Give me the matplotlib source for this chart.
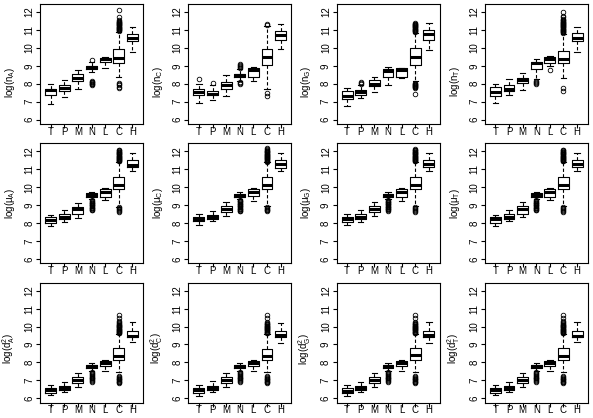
import matplotlib
matplotlib.use('Agg')
import matplotlib.pyplot as plt

plt.rcParams['font.family'] = ['Liberation Sans', 'DejaVu Sans']
plt.rcParams['mathtext.fontset'] = 'custom'
plt.rcParams['mathtext.rm'] = 'Liberation Sans'
plt.rcParams['mathtext.it'] = 'Liberation Sans:italic'

groups = ['T', 'P', 'M', 'N', 'L', 'C', 'H']

# ---------------- row 1 : log(n) ----------------
nA_lo = [6.87, 7.25, 7.70, 8.68, 8.87, 8.35, 9.78]
nA_q1 = [7.35, 7.59, 8.13, 8.82, 9.19, 9.17, 10.38]
nA_med = [7.66, 7.74, 8.33, 8.93, 9.36, 9.45, 10.57]
nA_q3 = [7.72, 7.90, 8.52, 9.00, 9.43, 9.92, 10.79]
nA_hi = [7.96, 8.18, 8.78, 9.22, 9.50, 10.90, 11.16]
nA_fl = [[], [], [],
         [9.33, 7.92, 7.96, 8.00, 8.04, 8.08, 8.12, 8.16],
         [],
         [10.95, 10.98, 11.01, 11.04, 11.07, 11.10, 11.13, 11.16, 11.19, 11.22,
          11.25, 11.28, 11.31, 11.34, 11.37, 11.40, 11.43, 11.46, 11.50, 11.55,
          11.70, 12.10, 7.76, 7.84, 7.92, 8.00, 8.06],
         []]

nC_lo = [6.92, 7.10, 7.29, 8.15, 8.15, 7.73, 9.95]
nC_q1 = [7.39, 7.35, 7.70, 8.35, 8.38, 9.02, 10.43]
nC_med = [7.53, 7.44, 7.91, 8.48, 8.76, 9.50, 10.74]
nC_q3 = [7.73, 7.60, 8.10, 8.55, 8.85, 9.95, 10.95]
nC_hi = [7.96, 7.90, 8.46, 8.82, 8.96, 11.20, 11.35]
nC_fl = [[8.25], [8.05], [],
         [8.90, 8.95, 9.00, 9.05, 9.10, 8.00, 8.05, 8.10],
         [],
         [11.30, 11.35, 7.50, 7.30],
         []]

nG_lo = [6.77, 7.22, 7.53, 7.95, 8.34, 8.15, 9.86]
nG_q1 = [7.15, 7.37, 7.87, 8.35, 8.38, 9.06, 10.43]
nG_med = [7.33, 7.51, 8.00, 8.69, 8.76, 9.50, 10.75]
nG_q3 = [7.60, 7.64, 8.20, 8.80, 8.85, 9.99, 11.00]
nG_hi = [7.78, 7.90, 8.40, 8.93, 8.90, 10.85, 11.40]
nG_fl = [[], [7.98, 8.04, 8.10], [],
         [],
         [],
         [10.90, 10.93, 10.96, 10.99, 11.02, 11.05, 11.08, 11.11, 11.14, 11.17,
          11.20, 11.23, 11.26, 11.29, 11.32, 11.36, 11.40,
          7.76, 7.79, 7.82, 7.85, 7.88, 7.91, 7.94, 7.97, 8.00, 8.04, 7.40],
         []]

nT_lo = [6.94, 7.39, 7.66, 8.24, 9.00, 8.33, 9.77]
nT_q1 = [7.29, 7.59, 8.03, 8.84, 9.17, 9.17, 10.38]
nT_med = [7.53, 7.72, 8.18, 9.15, 9.40, 9.36, 10.55]
nT_q3 = [7.81, 7.94, 8.33, 9.21, 9.50, 9.84, 10.83]
nT_hi = [7.96, 8.25, 8.60, 9.40, 9.55, 10.80, 11.16]
nT_fl = [[], [], [],
         [8.00, 8.05, 8.10, 8.15],
         [8.75],
         [10.84, 10.87, 10.90, 10.93, 10.96, 10.99, 11.02, 11.05, 11.08, 11.11,
          11.14, 11.17, 11.20, 11.23, 11.26, 11.29, 11.32, 11.35, 11.38, 11.41,
          11.44, 11.47, 11.50, 11.54, 11.58, 11.63, 11.70, 11.80, 12.00,
          7.62, 7.75],
         []]

# ---------------- row 2 : log(mu) ----------------
muA_lo = [7.84, 8.08, 8.30, 9.32, 9.29, 8.92, 10.90]
muA_q1 = [7.99, 8.22, 8.49, 9.47, 9.45, 9.88, 11.13]
muA_med = [8.18, 8.34, 8.78, 9.56, 9.75, 10.10, 11.26]
muA_q3 = [8.31, 8.49, 8.92, 9.65, 9.88, 10.57, 11.54]
muA_hi = [8.44, 8.73, 9.14, 9.73, 9.97, 11.40, 11.90]
muA_fl = [[], [], [],
          [8.70, 8.74, 8.78, 8.82, 8.86, 8.90, 8.94, 8.98, 9.02, 9.06, 9.10,
           9.14, 9.18, 9.22, 9.26],
          [],
          [11.44, 11.47, 11.50, 11.53, 11.56, 11.59, 11.62, 11.65, 11.68, 11.71,
           11.74, 11.77, 11.80, 11.83, 11.86, 11.89, 11.92, 11.95, 11.98, 12.02,
           12.06, 12.10, 8.60, 8.66, 8.72, 8.78, 8.84, 8.88],
          []]

muC_lo = [7.90, 8.10, 8.41, 9.35, 9.21, 8.97, 10.88]
muC_q1 = [8.10, 8.23, 8.64, 9.43, 9.49, 9.90, 11.10]
muC_med = [8.23, 8.36, 8.79, 9.53, 9.75, 10.13, 11.30]
muC_q3 = [8.36, 8.47, 8.97, 9.62, 9.90, 10.55, 11.52]
muC_hi = [8.50, 8.69, 9.16, 9.71, 9.96, 11.39, 11.89]
muC_fl = [[], [], [],
          [8.65, 8.69, 8.73, 8.77, 8.81, 8.85, 8.89, 8.93, 8.97, 9.01, 9.05,
           9.09, 9.13, 9.17, 9.21, 9.25, 9.29],
          [],
          [11.43, 11.46, 11.49, 11.52, 11.55, 11.58, 11.61, 11.64, 11.67, 11.70,
           11.73, 11.76, 11.79, 11.82, 11.85, 11.88, 11.91, 11.94, 11.97, 12.00,
           12.04, 12.08, 12.13, 12.18, 8.65, 8.70, 8.75, 8.80, 8.85, 8.90],
          []]

muG_lo = [7.88, 8.08, 8.40, 9.33, 9.22, 8.95, 10.88]
muG_q1 = [8.08, 8.22, 8.62, 9.44, 9.48, 9.89, 11.12]
muG_med = [8.21, 8.35, 8.80, 9.54, 9.76, 10.12, 11.30]
muG_q3 = [8.34, 8.48, 8.96, 9.63, 9.90, 10.56, 11.53]
muG_hi = [8.48, 8.70, 9.15, 9.72, 9.97, 11.40, 11.90]
muG_fl = [[], [], [],
          [8.68, 8.72, 8.76, 8.80, 8.84, 8.88, 8.92, 8.96, 9.00, 9.04, 9.08,
           9.12, 9.16, 9.20, 9.24, 9.28],
          [],
          [11.44, 11.47, 11.50, 11.53, 11.56, 11.59, 11.62, 11.65, 11.68, 11.71,
           11.74, 11.77, 11.80, 11.83, 11.86, 11.89, 11.92, 11.95, 11.98, 12.02,
           12.06, 12.10, 12.15, 8.62, 8.68, 8.74, 8.80, 8.86, 8.91],
          []]

muT_lo = [7.86, 8.09, 8.33, 9.33, 9.28, 8.93, 10.90]
muT_q1 = [8.02, 8.22, 8.52, 9.47, 9.46, 9.89, 11.13]
muT_med = [8.20, 8.35, 8.80, 9.56, 9.74, 10.11, 11.28]
muT_q3 = [8.33, 8.49, 8.94, 9.65, 9.88, 10.56, 11.53]
muT_hi = [8.46, 8.72, 9.15, 9.73, 9.97, 11.40, 11.90]
muT_fl = [[], [], [],
          [8.70, 8.74, 8.78, 8.82, 8.86, 8.90, 8.94, 8.98, 9.02, 9.06, 9.10,
           9.14, 9.18, 9.22, 9.26],
          [],
          [11.44, 11.47, 11.50, 11.53, 11.56, 11.59, 11.62, 11.65, 11.68, 11.71,
           11.74, 11.77, 11.80, 11.83, 11.86, 11.89, 11.92, 11.95, 11.98, 12.02,
           12.06, 12.10, 8.62, 8.68, 8.74, 8.80, 8.86, 8.90],
          []]

# ---------------- row 3 : log(d^2) ----------------
dA_lo = [6.15, 6.33, 6.61, 7.54, 7.54, 7.45, 9.12]
dA_q1 = [6.29, 6.43, 6.85, 7.69, 7.78, 8.15, 9.40]
dA_med = [6.43, 6.57, 7.04, 7.78, 7.96, 8.38, 9.49]
dA_q3 = [6.57, 6.70, 7.17, 7.86, 8.10, 8.78, 9.77]
dA_hi = [6.74, 6.93, 7.41, 7.97, 8.13, 9.59, 10.23]
dA_fl = [[], [], [],
         [6.90, 6.95, 7.00, 7.05, 7.10, 7.15, 7.20, 7.25, 7.30, 7.35, 7.40, 7.45],
         [],
         [9.62, 9.65, 9.68, 9.71, 9.74, 9.77, 9.80, 9.83, 9.86, 9.89, 9.92, 9.95,
          9.98, 10.01, 10.04, 10.07, 10.10, 10.14, 10.18, 10.23, 10.30, 10.45, 10.62,
          6.85, 6.89, 6.93, 6.97, 7.01, 7.05, 7.09, 7.13, 7.17, 7.22],
         []]

dC_lo = [6.14, 6.32, 6.60, 7.54, 7.53, 7.45, 9.10]
dC_q1 = [6.28, 6.43, 6.84, 7.68, 7.77, 8.14, 9.40]
dC_med = [6.43, 6.56, 7.04, 7.77, 7.96, 8.38, 9.50]
dC_q3 = [6.57, 6.70, 7.18, 7.86, 8.10, 8.77, 9.76]
dC_hi = [6.74, 6.94, 7.42, 7.98, 8.14, 9.60, 10.22]
dC_fl = [[], [], [],
         [6.90, 6.95, 7.00, 7.05, 7.10, 7.15, 7.20, 7.25, 7.30, 7.35, 7.40, 7.45],
         [],
         [9.63, 9.66, 9.69, 9.72, 9.75, 9.78, 9.81, 9.84, 9.87, 9.90, 9.93, 9.96,
          9.99, 10.02, 10.05, 10.08, 10.12, 10.16, 10.21, 10.28, 10.45, 10.62,
          6.85, 6.89, 6.93, 6.97, 7.01, 7.05, 7.09, 7.13, 7.17, 7.22],
         []]

dG_lo = [6.14, 6.32, 6.60, 7.54, 7.54, 7.45, 9.10]
dG_q1 = [6.28, 6.43, 6.85, 7.68, 7.78, 8.15, 9.40]
dG_med = [6.42, 6.57, 7.04, 7.78, 7.96, 8.39, 9.50]
dG_q3 = [6.56, 6.70, 7.17, 7.86, 8.10, 8.78, 9.77]
dG_hi = [6.74, 6.93, 7.41, 7.97, 8.13, 9.60, 10.23]
dG_fl = [[], [], [],
         [6.90, 6.95, 7.00, 7.05, 7.10, 7.15, 7.20, 7.25, 7.30, 7.35, 7.40, 7.45],
         [],
         [9.63, 9.66, 9.69, 9.72, 9.75, 9.78, 9.81, 9.84, 9.87, 9.90, 9.93, 9.96,
          9.99, 10.02, 10.05, 10.08, 10.12, 10.16, 10.21, 10.28, 10.45, 10.62,
          6.85, 6.89, 6.93, 6.97, 7.01, 7.05, 7.09, 7.13, 7.17, 7.22],
         []]

dT_lo = [6.15, 6.33, 6.61, 7.54, 7.54, 7.45, 9.12]
dT_q1 = [6.29, 6.43, 6.85, 7.69, 7.78, 8.15, 9.40]
dT_med = [6.43, 6.57, 7.04, 7.78, 7.96, 8.38, 9.49]
dT_q3 = [6.57, 6.70, 7.17, 7.86, 8.10, 8.78, 9.77]
dT_hi = [6.74, 6.93, 7.41, 7.97, 8.13, 9.59, 10.23]
dT_fl = [[], [], [],
         [6.90, 6.95, 7.00, 7.05, 7.10, 7.15, 7.20, 7.25, 7.30, 7.35, 7.40, 7.45],
         [],
         [9.62, 9.65, 9.68, 9.71, 9.74, 9.77, 9.80, 9.83, 9.86, 9.89, 9.92, 9.95,
          9.98, 10.01, 10.04, 10.07, 10.10, 10.14, 10.18, 10.23, 10.30, 10.45, 10.62,
          6.85, 6.89, 6.93, 6.97, 7.01, 7.05, 7.09, 7.13, 7.17, 7.22],
         []]

ylabels = [r'log($\mathregular{n_A}$)', r'log($\mathregular{n_C}$)',
           r'log($\mathregular{n_G}$)', r'log($\mathregular{n_T}$)',
           r'log($\mathregular{\mu_A}$)', r'log($\mathregular{\mu_C}$)',
           r'log($\mathregular{\mu_G}$)', r'log($\mathregular{\mu_T}$)',
           r'log($\mathregular{d_A^2}$)', r'log($\mathregular{d_C^2}$)',
           r'log($\mathregular{d_G^2}$)', r'log($\mathregular{d_T^2}$)']

panels = [
    (nA_lo, nA_q1, nA_med, nA_q3, nA_hi, nA_fl),
    (nC_lo, nC_q1, nC_med, nC_q3, nC_hi, nC_fl),
    (nG_lo, nG_q1, nG_med, nG_q3, nG_hi, nG_fl),
    (nT_lo, nT_q1, nT_med, nT_q3, nT_hi, nT_fl),
    (muA_lo, muA_q1, muA_med, muA_q3, muA_hi, muA_fl),
    (muC_lo, muC_q1, muC_med, muC_q3, muC_hi, muC_fl),
    (muG_lo, muG_q1, muG_med, muG_q3, muG_hi, muG_fl),
    (muT_lo, muT_q1, muT_med, muT_q3, muT_hi, muT_fl),
    (dA_lo, dA_q1, dA_med, dA_q3, dA_hi, dA_fl),
    (dC_lo, dC_q1, dC_med, dC_q3, dC_hi, dC_fl),
    (dG_lo, dG_q1, dG_med, dG_q3, dG_hi, dG_fl),
    (dT_lo, dT_q1, dT_med, dT_q3, dT_hi, dT_fl),
]

W, H = 593, 418
fig = plt.figure(figsize=(W / 100, H / 100), dpi=100)

pw, ph = 103, 120
label_y = [0.35, 0.5, 0.45]
lw = 0.8
for i, (lo, q1, med, q3, hi, fl) in enumerate(panels):
    r, c = divmod(i, 4)
    left = 40 + 148.25 * c
    top = 4 + 139.33 * r
    ax = fig.add_axes([left / W, 1 - (top + ph) / H, pw / W, ph / H])
    stats = [dict(med=med[k], q1=q1[k], q3=q3[k], whislo=lo[k], whishi=hi[k],
                  fliers=fl[k], label=groups[k]) for k in range(len(groups))]
    ax.bxp(stats, positions=list(range(1, len(groups) + 1)), widths=0.8,
           capwidths=0.4, showfliers=True,
           boxprops=dict(color='black', lw=lw),
           whiskerprops=dict(color='black', lw=lw, linestyle=(0, (3, 2))),
           capprops=dict(color='black', lw=lw),
           medianprops=dict(color='black', lw=2.2, solid_capstyle='butt'),
           flierprops=dict(marker='o', markerfacecolor='none',
                           markeredgecolor='black', markersize=3.3,
                           markeredgewidth=0.6, linestyle='none'))
    ax.set_xlim(0.22, 7.78)
    ax.set_ylim(5.75, 12.45)
    ax.set_xticks(list(range(1, 8)))
    ax.set_xticklabels(groups)
    ax.set_yticks([6, 7, 8, 9, 10, 11, 12])
    ax.set_yticklabels(['6', '7', '8', '9', '10', '11', '12'])
    ax.tick_params(axis='both', direction='out', length=3, width=lw,
                   labelsize=7, colors='black')
    ax.tick_params(axis='x', pad=-1.0)
    ax.tick_params(axis='y', pad=1.0, labelrotation=90)
    for lab in ax.get_yticklabels():
        lab.set_va('center')
    for sp in ax.spines.values():
        sp.set_linewidth(lw)
        sp.set_color('black')
    ax.set_ylabel(ylabels[i], fontsize=7)
    ax.yaxis.set_label_coords(-0.225, label_y[r])

fig.savefig('out.png', dpi=100)
